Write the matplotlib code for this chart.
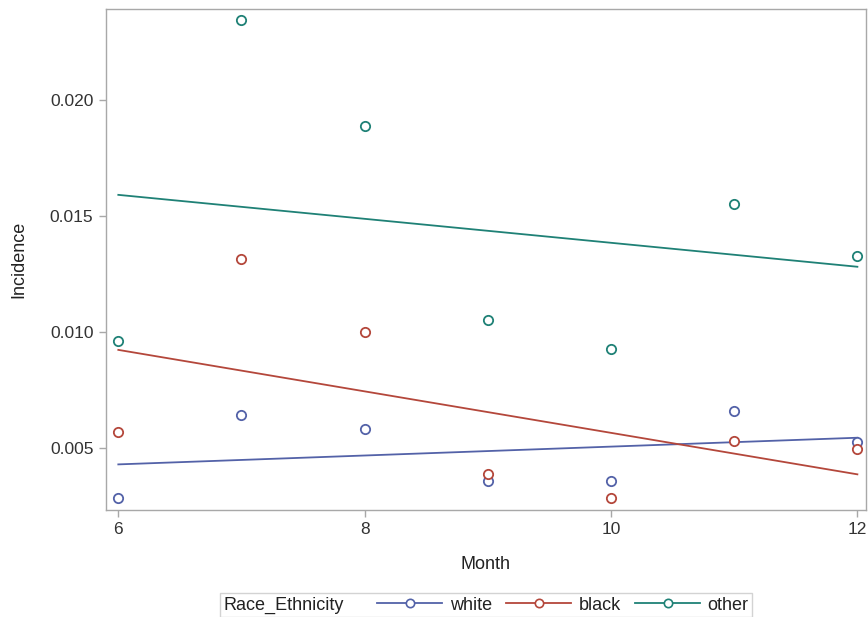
import numpy as np
import matplotlib
matplotlib.use("Agg")
import matplotlib.pyplot as plt
from matplotlib.lines import Line2D
from matplotlib.offsetbox import HPacker

plt.rcParams['font.family'] = ['Liberation Sans', 'DejaVu Sans']

months = [6, 7, 8, 9, 10, 11, 12]
white = [0.00284, 0.00642, 0.00582, 0.00358, 0.00358, 0.00659, 0.00526]
black = [0.00569, 0.01315, 0.01000, 0.00388, 0.00286, 0.00530, 0.00496]
other = [0.00961, 0.02345, 0.01888, 0.01052, 0.00927, 0.01552, 0.01328]

groups = ['white', 'black', 'other']
series = [white, black, other]
colors = ['#5362a8', '#b4473b', '#1f8176']

fig = plt.figure(figsize=(8.68, 6.17), dpi=100)
ax = fig.add_axes([106 / 868, 107 / 617, 760 / 868, 501 / 617])

x = np.array(months, dtype=float)
for name, vals, col in zip(groups, series, colors):
    y = np.array(vals)
    slope, icpt = np.polyfit(x, y, 1)
    ax.plot([x[0], x[-1]], [icpt + slope * x[0], icpt + slope * x[-1]],
            color=col, lw=1.3, zorder=2)
    ax.scatter(x, y, s=45, facecolors='white', edgecolors=col,
               linewidths=1.3, zorder=3)

ax.set_xlim(5.9, 12.07)
ax.set_ylim(0.00233, 0.02392)
ax.set_xticks([6, 8, 10, 12])
ax.set_yticks([0.005, 0.010, 0.015, 0.020])
ax.set_yticklabels(['0.005', '0.010', '0.015', '0.020'])

for s in ax.spines.values():
    s.set_color('#a8a8a8')
    s.set_linewidth(1.0)
ax.tick_params(direction='out', length=5, width=1, color='#a8a8a8',
               labelsize=12.5, labelcolor='#333333', pad=4)
ax.set_xlabel('Month', fontsize=13, color='#222222', labelpad=13)
ax.set_ylabel('Incidence', fontsize=13, color='#222222', labelpad=16)

handles = [Line2D([], [], color=c, lw=1.3, marker='o', mfc='white',
                  mec=c, ms=6, mew=1.2) for c in colors]
leg = fig.legend(handles, groups, ncol=3, loc='upper center',
                 bbox_to_anchor=(486 / 868, 24 / 617), frameon=True,
                 fancybox=False, edgecolor='#c8c8c8', fontsize=13,
                 title='Race_Ethnicity', title_fontsize=13,
                 handlelength=3.6, handletextpad=0.4, columnspacing=0.8,
                 borderpad=0.2, borderaxespad=0)
leg.get_frame().set_linewidth(1.0)
for t in leg.get_texts():
    t.set_color('#222222')
leg.get_title().set_color('#222222')

# put the legend title beside the entries, like SAS does
old = leg._legend_box
new = HPacker(pad=old.pad, sep=24, align='center', children=old.get_children())
new.set_figure(fig)
new.axes = leg.axes
new.set_offset(leg._findoffset)
leg._legend_box = new

fig.savefig('out.png', dpi=100)
